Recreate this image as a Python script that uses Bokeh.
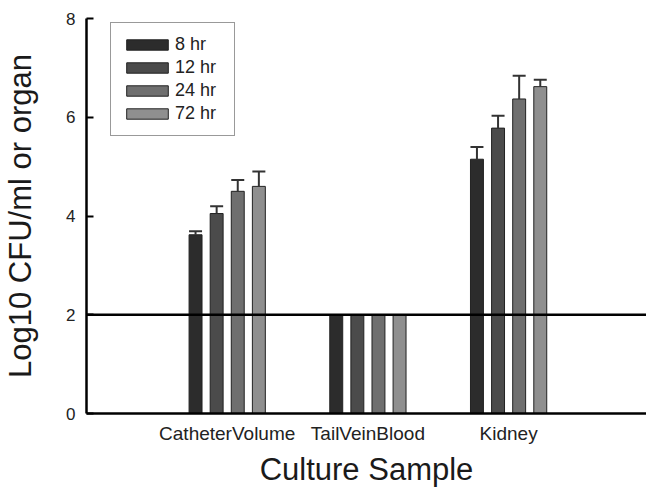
from bokeh.plotting import figure
from bokeh.models import (ColumnDataSource, Span, Legend, LegendItem, FixedTicker,
                          Whisker, TeeHead, Range1d)
from bokeh.embed import file_html
from bokeh.resources import INLINE

# ---- data ----
categories = ["CatheterVolume", "TailVeinBlood", "Kidney"]
category_pos = [1, 2, 3]
series = ["8 hr", "12 hr", "24 hr", "72 hr"]
hr8 = [3.62, 2.0, 5.15]
hr12 = [4.05, 2.0, 5.78]
hr24 = [4.50, 2.0, 6.37]
hr72 = [4.60, 2.0, 6.62]
err8 = [0.07, 0.0, 0.25]
err12 = [0.15, 0.0, 0.25]
err24 = [0.23, 0.0, 0.47]
err72 = [0.30, 0.0, 0.14]
y_ticks = [0, 2, 4, 6, 8]
threshold = 2

values = [hr8, hr12, hr24, hr72]
errors = [err8, err12, err24, err72]
offsets = [-0.225, -0.075, 0.075, 0.225]
colors = ["#2c2c2c", "#4b4b4b", "#6f6f6f", "#8f8f8f"]
bar_width = 0.092

FONT = "Liberation Sans"

p = figure(width=646, height=489, output_backend="svg", toolbar_location=None,
           x_range=Range1d(0, 3.98), y_range=Range1d(0, 8),
           min_border_left=83, min_border_right=0, min_border_top=18,
           min_border_bottom=76)
p.outline_line_color = None
p.xgrid.visible = False
p.ygrid.visible = False
p.background_fill_color = "white"
p.border_fill_color = "white"

items = []
for name, vals, errs, off, col in zip(series, values, errors, offsets, colors):
    xs = [c + off for c in category_pos]
    src = ColumnDataSource(dict(x=xs, top=vals))
    r = p.vbar(x="x", top="top", width=bar_width, source=src,
               fill_color=col, line_color="#222222", line_width=1)
    items.append(LegendItem(label=name, renderers=[r]))
    wx = [x for x, e in zip(xs, errs) if e > 0]
    wl = [v for v, e in zip(vals, errs) if e > 0]
    wu = [v + e for v, e in zip(vals, errs) if e > 0]
    wsrc = ColumnDataSource(dict(x=wx, lower=wl, upper=wu))
    w = Whisker(source=wsrc, base="x", lower="lower", upper="upper",
                line_color="#333333", line_width=2,
                upper_head=TeeHead(size=13, line_color="#333333", line_width=2),
                lower_head=None, level="glyph")
    p.add_layout(w)

p.add_layout(Span(location=threshold, dimension="width", line_color="black",
                  line_width=2.5))

legend = Legend(items=items, location=(24, 277), padding=10, spacing=0,
                glyph_width=52, glyph_height=13, label_standoff=2,
                label_width=49, label_height=23,
                label_text_font=FONT, label_text_font_size="18px",
                label_text_color="#222222",
                border_line_color="#333333", border_line_width=1.5,
                background_fill_color="white", background_fill_alpha=1.0)
p.add_layout(legend)

# y axis
p.yaxis.ticker = FixedTicker(ticks=y_ticks)
p.yaxis.minor_tick_line_color = None
p.yaxis.major_tick_in = 7
p.yaxis.major_tick_out = 0
p.yaxis.major_tick_line_width = 2
p.yaxis.axis_line_width = 2.5
p.yaxis.axis_line_color = "black"
p.yaxis.major_label_standoff = 11
p.yaxis.major_label_text_font = FONT
p.yaxis.major_label_text_font_size = "17px"
p.yaxis.major_label_text_color = "#222222"
p.yaxis.axis_label = "Log10 CFU/ml or organ"
p.yaxis.axis_label_text_font = FONT
p.yaxis.axis_label_text_font_size = "31px"
p.yaxis.axis_label_text_font_style = "normal"
p.yaxis.axis_label_text_color = "#1a1a1a"
p.yaxis.axis_label_standoff = 25

# x axis
p.xaxis.ticker = FixedTicker(ticks=category_pos)
p.xaxis.major_label_overrides = {pos: c for pos, c in zip(category_pos, categories)}
p.xaxis.minor_tick_line_color = None
p.xaxis.major_tick_in = 0
p.xaxis.major_tick_out = 0
p.xaxis.axis_line_width = 2.5
p.xaxis.axis_line_color = "black"
p.xaxis.major_label_standoff = 9
p.xaxis.major_label_text_font = FONT
p.xaxis.major_label_text_font_size = "19px"
p.xaxis.major_label_text_color = "#222222"
p.xaxis.axis_label = "Culture Sample"
p.xaxis.axis_label_text_font = FONT
p.xaxis.axis_label_text_font_size = "31px"
p.xaxis.axis_label_text_font_style = "normal"
p.xaxis.axis_label_text_color = "#1a1a1a"
p.xaxis.axis_label_standoff = 5

open("out.html", "w").write(file_html(p, INLINE))
